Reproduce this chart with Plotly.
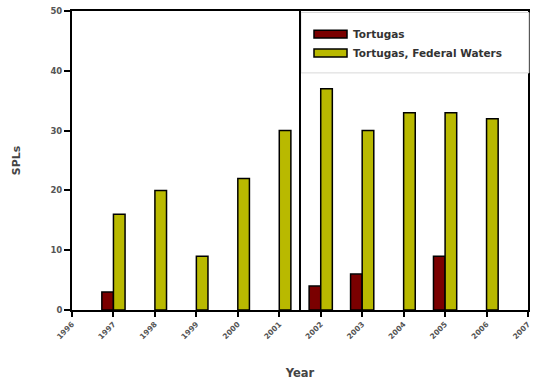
import plotly.graph_objects as go

years = [1996, 1997, 1998, 1999, 2000, 2001, 2002, 2003, 2004, 2005, 2006, 2007]
bar_years = [1997, 1998, 1999, 2000, 2001, 2002, 2003, 2004, 2005, 2006]
tortugas = [3, None, None, None, None, 4, 6, None, 9, None]
federal = [16, 20, 9, 22, 30, 37, 30, 33, 33, 32]
series_names = ["Tortugas", "Tortugas, Federal Waters"]
series_colors = ["#7a0000", "#b9b900"]
y_ticks = [0, 10, 20, 30, 40, 50]

W = 0.28
font_fam = "DejaVu Sans, Liberation Sans, sans-serif"

fig = go.Figure()
fig.add_trace(go.Bar(x=bar_years, y=tortugas, name=series_names[0], offset=-W, width=W,
                     marker=dict(color=series_colors[0], line=dict(color="black", width=1.5)),
                     showlegend=False))
fig.add_trace(go.Bar(x=bar_years, y=federal, name=series_names[1], offset=0, width=W,
                     marker=dict(color=series_colors[1], line=dict(color="black", width=1.5)),
                     showlegend=False))

shapes = []
shapes.append(dict(type="rect", xref="paper", yref="paper", x0=0.502, x1=1.002, y0=0.793, y1=0.995,
                   fillcolor="white", line=dict(color="#d8d8d8", width=1), layer="above"))
shapes.append(dict(type="line", xref="x", yref="paper", x0=2001.5, x1=2001.5, y0=0, y1=1,
                   line=dict(color="black", width=2), layer="above"))
sw_y = [(0.936, 0.9097), (0.8729, 0.846)]
annotations = []
for i in range(2):
    shapes.append(dict(type="rect", xref="paper", yref="paper", x0=0.5307, x1=0.6031,
                       y0=sw_y[i][1], y1=sw_y[i][0], fillcolor=series_colors[i],
                       line=dict(color="black", width=1.5), layer="above"))
    annotations.append(dict(xref="paper", yref="paper", x=0.612, y=(sw_y[i][0] + sw_y[i][1]) / 2,
                            text="<b>" + series_names[i] + "</b>", showarrow=False,
                            xanchor="left", yanchor="middle",
                            font=dict(family=font_fam, size=10.5, color="#333")))

fig.update_layout(
    width=533, height=383,
    margin=dict(l=72, r=5, t=11, b=73),
    plot_bgcolor="white", paper_bgcolor="white",
    showlegend=False,
    shapes=shapes, annotations=annotations,
    font=dict(family=font_fam, size=8, color="#444"),
    xaxis=dict(range=[1996, 2007], tickvals=years, ticktext=["<b>%d</b>" % y for y in years],
               tickangle=-45, ticks="outside", ticklen=5, tickwidth=2, tickcolor="black",
               showline=True, linecolor="black", linewidth=2, mirror=True, showgrid=False,
               zeroline=False, automargin=False, ticklabeloverflow="allow",
               tickfont=dict(size=7.5, color="#555"),
               title=dict(text="<b>Year</b>", font=dict(size=11.5, color="#444"), standoff=29)),
    yaxis=dict(range=[0, 50], tickvals=y_ticks, ticktext=["<b>%d</b>" % v for v in y_ticks],
               ticks="outside", ticklen=6, tickwidth=2,
               tickcolor="black", showline=True, linecolor="black", linewidth=2, mirror=True,
               showgrid=False, zeroline=False, automargin=False, ticklabeloverflow="allow",
               tickfont=dict(size=8.5, color="#555"),
               title=dict(text="<b>SPLs</b>", font=dict(size=11, color="#444"), standoff=28)),
)

fig.write_html("out.html", config={"displayModeBar": False},
               post_script="document.body.style.margin='0';")
